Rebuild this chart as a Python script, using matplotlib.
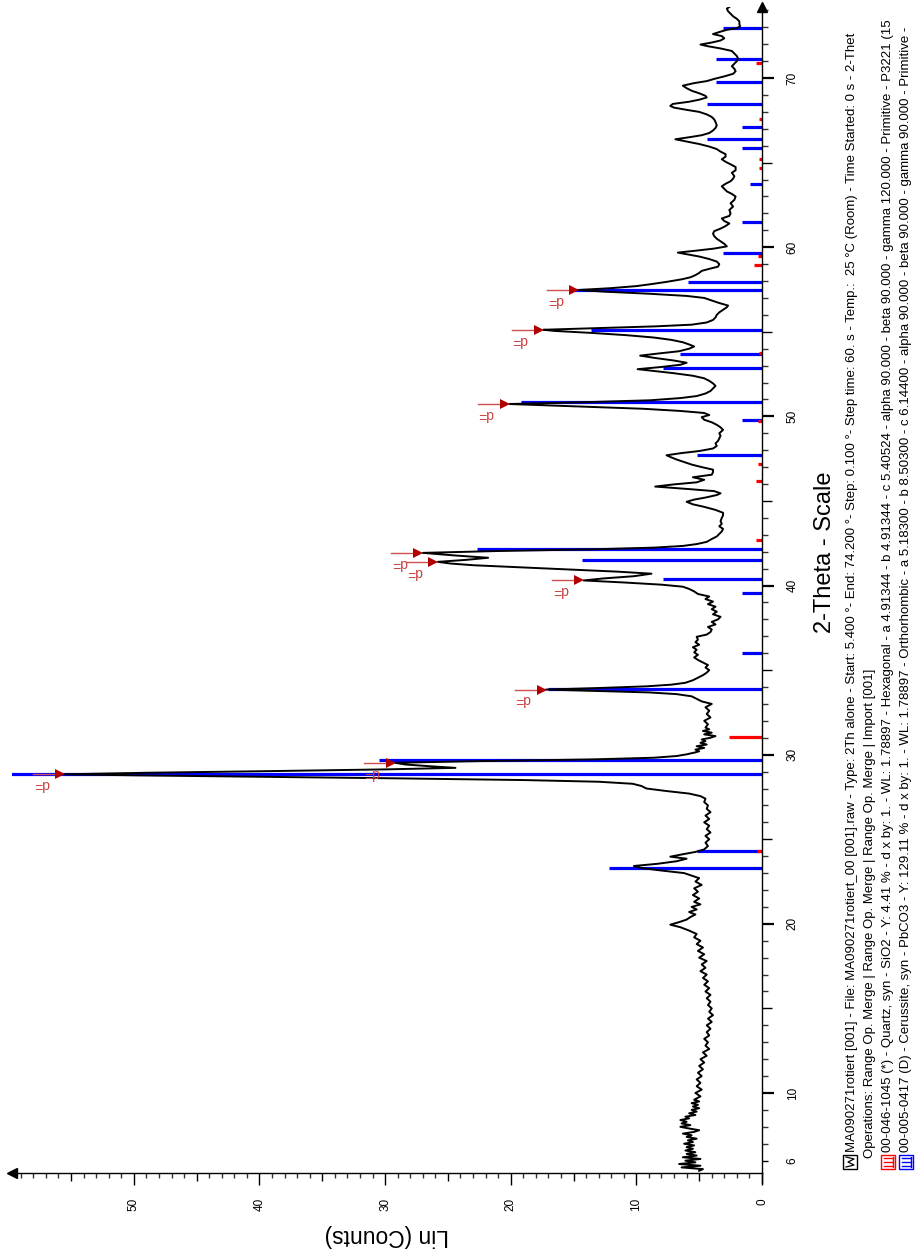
import matplotlib
matplotlib.use("Agg")
import matplotlib.pyplot as plt
from matplotlib.patches import Rectangle
from matplotlib.lines import Line2D

plt.rcParams['font.family'] = ['Liberation Sans', 'DejaVu Sans']

two_theta = [5.4, 5.5, 5.6, 5.7, 5.8, 5.9, 6.0, 6.1, 6.2, 6.3, 6.4, 6.5, 6.6, 6.7, 6.8, 6.9, 7.0, 7.1, 7.2, 7.3,
             7.4, 7.5, 7.6, 7.7, 7.8, 7.9, 8.0, 8.1, 8.2, 8.3, 8.4, 8.5, 8.6, 8.7, 8.8, 8.9, 9.0, 9.1, 9.2, 9.3,
             9.4, 9.5, 9.6, 9.8, 10.0, 10.2, 10.4, 10.6, 10.8, 11.0, 11.2, 11.4, 11.6, 11.8, 12.0, 12.2, 12.4,
             12.6, 12.8, 13.0, 13.2, 13.4, 13.6, 13.8, 14.0, 14.2, 14.4, 14.6, 14.8, 15.0, 15.2, 15.4, 15.6,
             15.8, 16.0, 16.2, 16.4, 16.6, 16.8, 17.0, 17.2, 17.4, 17.6, 17.8, 18.0, 18.2, 18.4, 18.6, 18.8,
             19.0, 19.2, 19.4, 19.6, 19.8, 19.95, 20.1, 20.25, 20.4, 20.55, 20.7, 20.85, 21.0, 21.15, 21.3,
             21.5, 21.7, 21.9, 22.1, 22.3, 22.5,
             22.7, 22.85, 23.0, 23.15, 23.3, 23.42, 23.55, 23.7, 23.85, 23.97, 24.1, 24.25, 24.4, 24.6, 24.8,
             25.0, 25.2, 25.4, 25.6, 25.8, 26.0, 26.2, 26.4, 26.6, 26.8, 27.0, 27.2, 27.4, 27.55, 27.7, 27.85,
             28.0, 28.15, 28.28, 28.4, 28.5, 28.6, 28.7, 28.78, 28.84, 28.93, 29.03, 29.13, 29.22, 29.32,
             29.42, 29.52, 29.62, 29.72, 29.82, 29.92, 30.02, 30.12,
             30.2, 30.3, 30.4, 30.5, 30.6, 30.7, 30.8, 30.9, 31.0, 31.1, 31.2, 31.3, 31.4, 31.5, 31.6, 31.8,
             32.0, 32.2, 32.4, 32.6, 32.8, 33.0, 33.15, 33.3, 33.45, 33.58, 33.68, 33.77, 33.85, 33.94, 34.04,
             34.14, 34.25, 34.4, 34.55, 34.7, 34.85, 35.0, 35.15, 35.3, 35.45, 35.6, 35.75, 35.9, 36.05, 36.2,
             36.35, 36.5, 36.65, 36.8,
             36.97, 37.1, 37.25, 37.4, 37.55, 37.7, 37.85, 38.0, 38.15, 38.3, 38.45, 38.6, 38.75, 38.9, 39.05,
             39.2, 39.35, 39.5, 39.65, 39.8, 39.93, 40.05, 40.18, 40.3, 40.42, 40.55, 40.7, 40.82, 40.95, 41.08,
             41.2, 41.3, 41.4, 41.52, 41.64, 41.78, 41.93, 42.04, 42.14, 42.24, 42.34, 42.45, 42.58, 42.75,
             42.9, 43.05, 43.2, 43.35, 43.5, 43.65, 43.8, 44.0, 44.15, 44.3, 44.47, 44.65, 44.8, 44.95, 45.08,
             45.2, 45.35, 45.45, 45.58, 45.7, 45.85, 45.98, 46.1, 46.25, 46.4, 46.55, 46.7, 46.85, 47.0, 47.15,
             47.3, 47.45, 47.6, 47.7, 47.83, 47.95, 48.1, 48.25, 48.4, 48.55, 48.7, 48.85, 49.0, 49.2, 49.35,
             49.5, 49.65, 49.8, 49.95, 50.08, 50.2, 50.32, 50.45, 50.58, 50.73, 50.84, 50.95, 51.08, 51.2,
             51.35, 51.5, 51.65, 51.8, 51.95, 52.1, 52.25, 52.4, 52.55, 52.68, 52.79, 52.92, 53.05, 53.17,
             53.3, 53.45, 53.59, 53.72, 53.85, 54.0, 54.13, 54.25, 54.38, 54.52, 54.66, 54.8, 54.93, 55.05,
             55.12,
             55.22, 55.32, 55.42, 55.55, 55.7, 55.85, 56.0, 56.15, 56.3, 56.45, 56.55, 56.7, 56.85, 57.0, 57.12,
             57.25, 57.37, 57.47, 57.58, 57.7, 57.82, 57.95, 58.1, 58.22, 58.35, 58.48, 58.6, 58.72, 58.85,
             59.0, 59.15, 59.3, 59.45, 59.57, 59.68, 59.8, 59.92, 60.05, 60.2, 60.35, 60.5, 60.65, 60.8, 60.95,
             61.1, 61.25, 61.4, 61.55, 61.7, 61.85, 62.0, 62.2, 62.4, 62.6, 62.8, 63.0, 63.15, 63.3, 63.45,
             63.6, 63.75, 63.9, 64.05, 64.2, 64.4, 64.55, 64.74, 64.9, 65.05, 65.2, 65.35, 65.5, 65.65, 65.8,
             65.95, 66.1, 66.25, 66.38, 66.5, 66.62, 66.75, 66.9, 67.05, 67.2, 67.4, 67.55, 67.7, 67.85, 68.0,
             68.12, 68.25, 68.35, 68.47, 68.6, 68.72, 68.85, 68.95, 69.1, 69.25, 69.4, 69.55, 69.7, 69.82,
             69.95, 70.1, 70.25, 70.4, 70.55, 70.7, 70.85, 71.0, 71.15, 71.3, 71.45, 71.6, 71.75, 71.88, 71.98,
             72.1, 72.22, 72.35, 72.48, 72.6, 72.72, 72.85, 72.95, 73.05, 73.2, 73.35, 73.5, 73.65, 73.8,
             73.95, 74.1, 74.2]

counts = [5.0, 4.7, 6.4, 4.9, 6.6, 5.3, 6.1, 4.9, 6.3, 5.2, 6.0, 5.3, 6.1, 5.5, 6.0, 5.4, 6.2, 5.5, 5.9, 5.2,
          6.0, 5.6, 6.3, 5.4, 5.0, 5.8, 6.5, 5.7, 6.4, 6.0, 6.5, 5.8, 6.1, 5.3, 5.8, 5.2, 5.6, 5.0, 5.5, 5.1,
          5.6, 5.0, 5.4, 4.9, 5.3, 4.8, 5.2, 4.9, 5.2, 4.8, 5.1, 4.7, 5.0, 4.6, 4.9, 4.4, 4.7,
          4.2, 4.5, 4.3, 4.6, 4.2, 4.4, 4.1, 4.4, 4.0, 4.3, 3.9, 4.2, 4.0, 4.3, 4.1, 4.4,
          4.1, 4.5, 4.2, 4.6, 4.3, 4.7, 4.4, 4.9, 4.5, 4.8, 4.4, 5.0, 4.6, 5.1, 4.7, 5.2,
          4.9, 5.4, 5.2, 5.8, 6.5, 7.3, 6.6, 6.0, 5.7, 5.3, 5.8, 5.2, 5.6, 4.9, 5.4,
          5.0, 5.5, 5.1, 5.4, 4.8, 5.3,
          5.0, 5.6, 6.2, 8.0, 9.6, 10.2, 8.3, 6.8, 6.0, 7.3, 6.4, 5.3, 4.6, 4.3, 4.5,
          4.2, 4.5, 4.1, 4.4, 4.2, 4.6, 4.2, 4.5, 4.1, 4.4, 4.3, 4.6, 4.5, 4.9, 5.8, 7.6,
          9.2, 9.6, 10.3, 13.0, 19.0, 29.0, 41.0, 50.0, 55.5, 49.0, 39.0, 30.0, 24.4, 26.5,
          28.4, 29.2, 22.5, 13.5, 8.6, 6.8, 6.0, 5.4,
          5.0, 5.3, 4.6, 5.2, 4.4, 4.9, 4.5, 4.8, 4.1, 3.7, 4.6, 4.0, 4.7, 4.2, 4.5, 4.3,
          4.6, 4.1, 4.4, 4.2, 4.5, 4.0, 4.8, 5.2, 5.6, 6.8, 9.0, 13.5, 17.2, 13.0, 9.2,
          7.2, 6.1, 5.5, 5.1, 4.7, 4.4, 4.2, 4.5, 4.3, 4.7, 5.1, 5.4, 5.1, 5.4, 5.2,
          5.5, 5.0, 5.3, 5.1,
          5.2, 4.4, 4.1, 4.0, 4.3, 3.7, 4.0, 3.5, 3.3, 3.9, 3.6, 4.0, 3.7, 4.3, 3.9,
          4.5, 4.2, 5.1, 5.4, 5.8, 6.3, 8.0, 11.0, 14.2, 12.6, 10.2, 8.8, 11.5, 15.5, 19.5,
          23.0, 24.8, 25.8, 23.5, 21.8, 24.5, 27.0, 21.0, 13.5, 8.6, 6.3, 5.2, 4.4, 4.0,
          3.6, 3.4, 3.2, 3.1, 3.4, 3.2, 3.3, 3.2, 3.1, 3.1, 3.7, 4.6, 5.5, 6.0, 5.4,
          4.5, 3.6, 3.3, 3.8, 5.8, 8.5, 7.0, 5.2, 4.6, 5.5, 4.0, 3.9, 3.9, 4.8, 5.6,
          6.2, 6.8, 7.3, 7.6, 6.4, 5.0, 3.9, 3.6, 3.7, 3.5, 3.4, 3.3, 3.4, 3.1, 3.3,
          3.6, 4.0, 4.6, 4.8, 4.2, 4.6, 6.5, 9.5, 14.5, 20.1, 14.0, 8.9, 6.5, 5.2,
          4.5, 4.1, 3.9, 3.7, 3.9, 4.2, 4.6, 5.5, 7.0, 8.6, 9.9, 8.0, 6.5, 6.0,
          7.0, 8.5, 9.7, 8.2, 6.6, 5.8, 5.4, 5.8, 6.3, 7.2, 8.6, 10.8, 13.5, 16.5,
          17.4,
          13.0, 8.5, 5.6, 4.4, 3.9, 3.7, 3.6, 3.4, 3.1, 2.8, 2.7, 3.4, 4.0, 4.6, 6.0,
          9.0, 12.5, 14.6, 12.0, 10.0, 8.8, 7.6, 6.4, 5.7, 5.3, 5.0, 4.8, 4.2, 3.5,
          3.4, 3.6, 4.2, 5.0, 5.9, 6.7, 5.2, 3.8, 2.8, 3.0, 3.3, 3.6, 3.8, 3.9, 3.8,
          3.3, 2.9, 2.6, 3.0, 3.2, 2.6, 2.5, 2.6, 2.3, 2.5, 2.2, 2.1, 2.4, 2.8, 3.0,
          3.2, 2.9, 2.5, 2.3, 2.2, 2.4, 2.1, 2.1, 2.5, 2.9, 3.2, 2.9, 2.9, 3.3, 3.6,
          4.2, 5.0, 6.0, 6.9, 5.8, 4.8, 4.2, 3.9, 3.7, 3.6, 3.7, 3.8, 4.0, 4.4, 5.0,
          6.0, 7.0, 7.3, 7.1, 5.8, 5.0, 4.4, 4.5, 5.0, 5.6, 6.0, 6.3, 5.4, 4.4,
          3.8, 3.0, 2.3, 2.1, 2.2, 2.4, 2.2, 2.0, 1.9, 2.0, 2.2, 2.4, 3.3, 4.3, 4.9,
          4.0, 3.3, 3.0, 3.2, 3.9, 3.4, 2.8, 2.0, 1.75, 1.8, 1.8, 2.0, 2.3, 2.5,
          2.7, 2.8, 2.6]

# reference sticks: 00-005-0417 Cerussite (blue) and 00-046-1045 Quartz (red)
cer_pos = [23.32, 24.29, 28.88, 29.68, 33.86, 36.0, 39.57, 40.39, 41.52, 42.14, 47.69, 49.77, 50.87,
           52.86, 53.68, 55.13, 57.48, 57.95, 59.68, 61.5, 63.72, 65.87, 66.38, 67.13, 68.49, 69.75,
           71.11, 72.96]
cer_int = [12.2, 5.2, 76.0, 30.5, 17.0, 1.6, 1.6, 7.9, 14.3, 22.7, 5.2, 1.6, 19.2,
           7.9, 6.5, 13.6, 15.0, 5.9, 3.1, 1.6, 0.95, 1.6, 4.4, 1.6, 4.4, 3.7,
           3.7, 3.1]
qtz_pos = [24.29, 31.06, 42.72, 46.17, 47.16, 49.74, 53.74, 58.95, 59.46, 64.68, 65.2, 67.55, 70.9]
qtz_int = [0.4, 2.6, 0.45, 0.45, 0.3, 0.3, 0.2, 0.6, 0.3, 0.25, 0.25, 0.25, 0.5]

# peak markers
peak_pos = [28.84, 29.52, 33.85, 40.3, 41.4, 41.93, 50.73, 55.12, 57.47]
peak_cnt = [55.5, 29.2, 17.2, 14.2, 25.8, 27.0, 20.1, 17.4, 14.6]

theta_ticks = [6, 10, 15, 20, 25, 30, 35, 40, 45, 50, 55, 60, 65, 70]
count_ticks = [0, 5, 10, 15, 20, 25, 30, 35, 40, 45, 50, 55]

# legend lines, as far as they show before the page edge
legend_lines = [
    "MA090271rotiert [001] - File: MA090271rotiert_00 [001].raw - Type: 2Th alone - Start: 5.400 \u00b0- End: 74.200 \u00b0- "
    "Step: 0.100 \u00b0- Step time: 60. s - Temp.:  25 \u00b0C (Room) - Time Started: 0 s - 2-Thet",
    "Operations: Range Op. Merge | Range Op. Merge | Range Op. Merge | Import [001]",
    "00-046-1045 (*) - Quartz, syn - SiO2 - Y: 4.41 % - d x by: 1. - WL: 1.78897 - Hexagonal - a 4.91344 - b 4.91344 - "
    "c 5.40524 - alpha 90.000 - beta 90.000 - gamma 120.000 - Primitive - P3221 (15",
    "00-005-0417 (D) - Cerussite, syn - PbCO3 - Y: 129.11 % - d x by: 1. - WL: 1.78897 - Orthorhombic - a 5.18300 - "
    "b 8.50300 - c 6.14400 - alpha 90.000 - beta 90.000 - gamma 90.000 - Primitive -",
]

W, H = 922, 1251
fig = plt.figure(figsize=(W / 100, H / 100), dpi=100)
ax = fig.add_axes([12 / W, 1 - 1173 / H, 750 / W, 1166 / H])
ax.set_xlim(59.7, 0)
ax.set_ylim(5.27, 74.2)

ax.hlines(cer_pos, 0, cer_int, colors='#0000ff', lw=2.3, zorder=2)
ax.hlines(qtz_pos, 0, qtz_int, colors='#ff0000', lw=2.3, zorder=2)
ax.plot(counts, two_theta, color='black', lw=1.4, zorder=3)

for th, c in zip(peak_pos, peak_cnt):
    ax.plot([c + 0.6, c + 2.5], [th, th], color='#d05050', lw=1.0, zorder=4)
    ax.plot(c + 0.35, th, marker='>', color='#b00000', ms=7, mew=0, zorder=5)
    ax.annotate('d=', xy=(c + 2.5, th), xytext=(0, -2), textcoords='offset points',
                rotation=180, ha='left', va='top', color='#c84040', fontsize=10)

# axes look: only the 0-count axis and the 2-theta baseline, with arrows
for s in ['top', 'left']:
    ax.spines[s].set_visible(False)
for s in ['right', 'bottom']:
    ax.spines[s].set_linewidth(1.0)
ax.yaxis.tick_right()
ax.xaxis.tick_bottom()
ax.plot(1, 1, marker='^', color='black', ms=7, transform=ax.transAxes, clip_on=False)
ax.plot(0, 0, marker='<', color='black', ms=7, transform=ax.transAxes, clip_on=False)
ax.plot([1, 1], [0, -10 / 1166], color='black', lw=1.0, transform=ax.transAxes, clip_on=False)

ax.set_yticks(theta_ticks)
ax.set_yticklabels([str(t) if (t % 10 == 0 or t == 6) else '' for t in theta_ticks])
ax.set_yticks(range(6, 75), minor=True)
ax.set_xticks(count_ticks)
ax.set_xticklabels([str(t) if t % 10 == 0 else '' for t in count_ticks])
ax.set_xticks(range(0, 60), minor=True)

ax.tick_params(axis='y', which='major', direction='out', length=7.2, width=1.0, labelsize=8.5,
               labelrotation=90, pad=10.5)
ax.tick_params(axis='y', which='minor', direction='out', length=4.3, width=1.0, color='#333333')
ax.tick_params(axis='x', which='major', direction='out', length=6.0, width=1.0, labelsize=8.5,
               labelrotation=90, pad=12)
ax.tick_params(axis='x', which='minor', direction='out', length=3.6, width=1.0, color='#333333')
for lab in ax.get_yticklabels():
    lab.set_va('center')

for tk, t in zip(ax.yaxis.get_major_ticks(), theta_ticks):
    if t % 10 == 0:
        tk.tick2line.set_markersize(8.6)
        tk.tick2line.set_color('#666666')
        tk.tick2line.set_markeredgewidth(1.6)
    elif t == 6:
        tk.tick2line.set_markersize(4.3)
for tk, t in zip(ax.xaxis.get_major_ticks(), count_ticks):
    if t % 10 == 0:
        tk.tick1line.set_markersize(8.6)

fig.text(387 / W, 1 - 1235 / H, 'Lin (Counts)', rotation=180, ha='center', va='center', fontsize=16.5)
fig.text(825 / W, 1 - 552 / H, '2-Theta - Scale', rotation=90, ha='center', va='center', fontsize=17)

# legend block
leg_x = [852, 870, 888, 906]
leg_y0 = [1152, 1158, 1152, 1152]
for x, y0, txt in zip(leg_x, leg_y0, legend_lines):
    fig.text(x / W, 1 - y0 / H, txt, rotation=90, ha='center', va='bottom', fontsize=9.5)


def icon(x0, y0, color, raw=False):
    w, h = 14, 14
    fig.add_artist(Rectangle((x0 / W, 1 - (y0 + h) / H), w / W, h / H, transform=fig.transFigure,
                             fill=False, edgecolor=color, lw=1.0))
    if raw:
        xs = [x0 + 3, x0 + 11, x0 + 5, x0 + 11, x0 + 3]
        ys = [y0 + 2, y0 + 4, y0 + 7, y0 + 10, y0 + 12]
        fig.add_artist(Line2D([v / W for v in xs], [1 - v / H for v in ys], transform=fig.transFigure,
                              color=color, lw=0.9))
    else:
        for yy in [y0 + 3, y0 + 7, y0 + 11]:
            fig.add_artist(Line2D([(x0 + 3) / W, (x0 + 12) / W], [1 - yy / H, 1 - yy / H],
                                  transform=fig.transFigure, color=color, lw=1.0))
        fig.add_artist(Line2D([(x0 + 12) / W, (x0 + 12) / W], [1 - (y0 + 2) / H, 1 - (y0 + 12) / H],
                              transform=fig.transFigure, color=color, lw=1.0))


icon(843, 1155, 'black', raw=True)
icon(881, 1155, '#ff0000')
icon(899, 1155, '#0000ff')

fig.savefig('out.png', dpi=100)
